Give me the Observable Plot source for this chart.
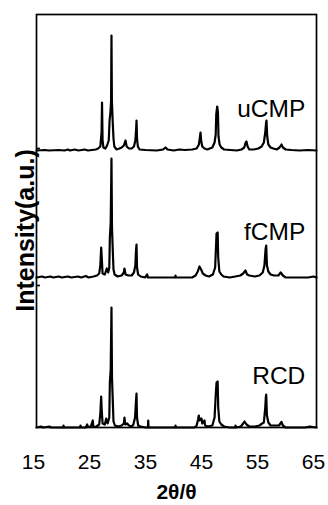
<!DOCTYPE html>
<html><head><meta charset="utf-8">
<script src="https://cdn.jsdelivr.net/npm/d3@7"></script>
<script src="https://cdn.jsdelivr.net/npm/@observablehq/plot@0.6"></script>
<style>body{margin:0;background:#fff}</style>
</head><body><div id="chart"></div>
<script>
// 2θ (degrees) and intensity (a.u.) above each pattern's own baseline
const seriesNames = ["uCMP", "fCMP", "RCD"];
const offsets = [277, 150, 0];
const labelTheta = 63.0;
const labelLevels = [311, 188, 44];
const xTicks = [15, 25, 35, 45, 55, 65];
const yTicks = [142, 279];

const uCMP = [[15.0,0],[16.5,0.5],[17.2,0],[19.0,0.5],[20.0,0],[20.6,1],[21.0,0],[21.8,1],[22.5,0],[23.6,1],[24.2,0],[25.6,1],[26.0,2],[26.4,4],[26.55,14],[26.62,18],[26.7,48],[26.8,10],[26.95,3],[27.3,2],[27.6,5],[27.9,10],[28.05,30],[28.2,38],[28.32,50],[28.39,115],[28.46,50],[28.6,30],[28.75,12],[28.9,4],[29.3,1],[29.8,2],[30.2,3],[30.6,5],[30.89,10],[31.1,4],[31.5,2],[32.0,2],[32.4,4],[32.65,10],[32.8,22],[32.86,30],[32.95,12],[33.1,4],[33.4,1],[34.5,0.5],[36.5,0],[37.6,1],[38.04,3],[38.4,1],[39.5,0],[40.5,1],[41.5,0.5],[42.8,1],[43.6,2],[44.0,6],[44.2,14],[44.29,18],[44.4,10],[44.6,4],[45.0,2],[45.5,1],[46.4,3],[46.8,8],[47.0,16],[47.1,36],[47.27,44],[47.4,38],[47.5,14],[47.7,6],[48.0,3],[48.5,1],[49.6,0.5],[50.8,0],[51.6,1],[52.1,3],[52.35,8],[52.5,9],[52.7,4],[53.0,1],[53.8,1],[54.6,2],[55.2,4],[55.6,8],[55.85,18],[56.0,28],[56.07,30],[56.2,14],[56.4,6],[56.8,3],[57.3,2],[57.9,1],[58.4,3],[58.75,6],[59.0,3],[59.5,1],[60.5,0.5],[62.0,0],[63.5,0.5],[65,0]];

const fCMP = [[15,0],[16,1],[16.5,0],[17.5,1],[18,0],[19,1],[19.5,0],[20.6,1],[21.2,0],[22.4,1],[23,0],[23.8,1.5],[24.3,0],[25.2,1],[25.8,2],[26.2,4],[26.4,12],[26.55,30],[26.65,20],[26.8,4],[27.2,3],[27.55,9],[27.8,5],[28.0,10],[28.1,40],[28.25,55],[28.39,119],[28.48,50],[28.6,30],[28.75,8],[28.95,3],[29.5,1],[30.2,2],[30.6,5],[30.71,9],[30.9,3],[31.4,2],[32.0,2],[32.4,5],[32.65,12],[32.78,28],[32.86,33],[32.95,10],[33.15,3],[33.6,1],[34.4,0],[34.77,3],[34.9,0],[37,0],[39.78,0],[39.82,2],[39.88,0],[42.8,0],[43.4,2],[43.8,6],[44.1,11],[44.4,8],[44.7,4],[45.2,2],[45.8,1],[46.5,3],[46.9,10],[47.05,30],[47.15,44],[47.35,45],[47.45,20],[47.65,6],[48.0,3],[48.4,1],[49.5,0],[50.5,1],[51.4,2],[51.9,4],[52.32,7],[52.6,3],[53.0,2],[54.0,1],[54.8,2],[55.4,5],[55.7,12],[55.9,28],[56.02,32],[56.15,12],[56.4,6],[56.8,3],[57.4,2],[58.2,2],[58.6,5],[58.75,4],[59.0,2],[59.5,0],[61,0],[63.5,0],[64.5,1],[65,0]];

const RCD = [[15,0],[15.8,1],[16.2,0],[17.3,1],[17.6,0],[19.75,0],[19.82,2],[19.9,0],[22.8,0],[22.86,2],[22.95,0],[23.8,0],[24.05,3],[24.2,0.5],[24.7,1],[25.05,7],[25.15,0.5],[25.7,1],[26.2,3],[26.4,14],[26.55,31],[26.62,20],[26.8,4],[27.2,3],[27.45,9],[27.7,4],[28.0,10],[28.1,45],[28.25,58],[28.39,120],[28.48,50],[28.6,30],[28.75,6],[29.0,2],[29.6,1],[30.2,2],[30.6,4],[30.71,10],[30.85,3],[31.2,4],[31.5,2],[32.0,1],[32.3,3],[32.6,10],[32.78,28],[32.86,34],[32.95,10],[33.15,2],[33.6,1],[34.5,0],[34.9,0],[34.95,7],[35.0,0],[37,0],[39.78,0],[39.82,2],[39.88,0],[43.2,0],[43.6,2],[43.85,8],[43.98,12],[44.1,7],[44.3,9],[44.46,9],[44.6,4],[45.0,7],[45.1,2],[45.6,1],[46.4,2],[46.8,10],[47.0,32],[47.15,45],[47.35,46],[47.45,20],[47.65,6],[48.0,3],[48.5,1],[49.5,0],[50.5,0],[50.54,2],[50.6,0],[51.5,1],[51.9,4],[52.14,6],[52.5,3],[53.0,1],[54.0,1],[54.8,2],[55.3,4],[55.6,5],[55.85,20],[55.95,30],[56.02,33],[56.15,12],[56.4,5],[56.8,2],[57.5,2],[58.3,2],[58.75,5.6],[59.0,2],[59.5,0],[61,0],[63,0],[63.8,1],[65,0]];

const patterns = [uCMP, fCMP, RCD];
const rows = [];
patterns.forEach((pts, i) => {
  for (const [t, h] of pts) rows.push({series: seriesNames[i], t, I: offsets[i] + h});
});
const labels = seriesNames.map((s, i) => ({s, t: labelTheta, I: labelLevels[i]}));

const chart = Plot.plot({
  width: 328, height: 505,
  marginLeft: 36, marginRight: 12, marginTop: 14, marginBottom: 78,
  style: {fontFamily: "'Liberation Sans', Arial, sans-serif", background: "#fff", color: "#000"},
  x: {domain: [15, 65]},
  y: {domain: [0, 413], axis: null},
  marks: [
    Plot.line(rows, {x: "t", y: "I", z: "series", stroke: "#000", strokeWidth: 2.2, strokeLinejoin: "round"}),
    Plot.frame({stroke: "#000", strokeWidth: 1.7}),
    Plot.ruleY(yTicks, {x1: 15, x2: 15.7, stroke: "#000", strokeWidth: 1.7}),
    Plot.axisX(xTicks, {tickSize: 0, tickPadding: 27, fontSize: 21, dx: -3, label: null}),
    Plot.text(labels, {x: "t", y: "I", text: "s", textAnchor: "end", lineAnchor: "bottom", fontSize: 24.5, fill: "#000"}),
    Plot.text(["2θ/θ"], {frameAnchor: "bottom", dy: 71, fontWeight: "bold", fontSize: 21, fill: "#000"}),
    Plot.text(["Intensity(a.u.)"], {frameAnchor: "left", textAnchor: "middle", rotate: -90, dx: -11, dy: 9.5, fontWeight: "bold", fontSize: 25, fill: "#000"})
  ]
});
document.getElementById("chart").append(chart);
</script>
</body></html>
